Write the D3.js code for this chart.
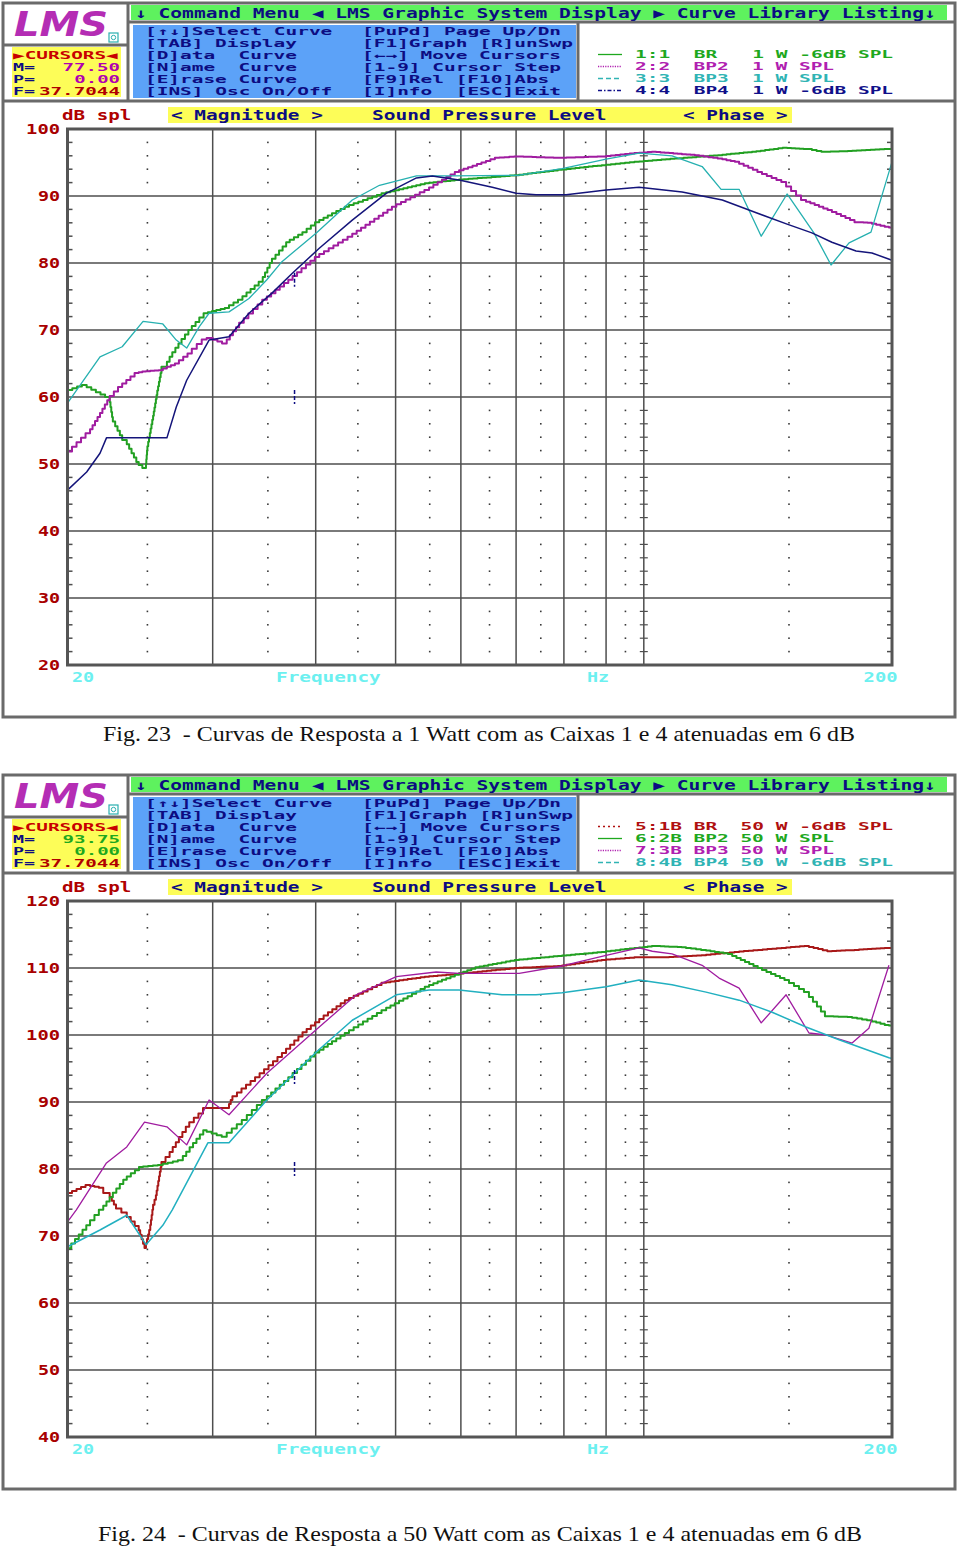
<!DOCTYPE html>
<html><head><meta charset="utf-8">
<script src="https://cdn.jsdelivr.net/npm/d3@7"></script>
<style>body{margin:0;background:#fff;} svg{display:block;}</style>
</head><body>
<svg id="c" width="960" height="1546"></svg>
<script>
// ---------------- DATA ----------------
const freqDomain = [20, 200];
const majorFreqs = [30, 40, 50, 60, 70, 80, 90, 100];
const minorFreqs = [25, 35, 45, 55, 65, 75, 85, 95, 150];
const xAxisTexts = ["20", "Frequency", "Hz", "200"];
const yTicks1 = [20, 30, 40, 50, 60, 70, 80, 90, 100];
const yTicks2 = [40, 50, 60, 70, 80, 90, 100, 110, 120];

const menuTitle = "\u2193 Command Menu \u25C0 LMS Graphic System Display \u25B6 Curve Library Listing\u2193";
const helpCol1 = ["[\u2191\u2193]Select Curve", "[TAB] Display", "[D]ata  Curve", "[N]ame  Curve", "[E]rase Curve", "[INS] Osc On/Off"];
const helpCol2 = ["[PuPd] Page Up/Dn", "[F1]Graph [R]unSwp", "[\u2190\u2192] Move Cursors", "[1-9] Cursor Step", "[F9]Rel [F10]Abs", "[I]nfo  [ESC]Exit"];
const titleTexts = ["dB spl", "< Magnitude >", "Sound Pressure Level", "< Phase >"];

const legend1 = ["1:1  BR   1 W -6dB SPL", "2:2  BP2  1 W SPL", "3:3  BP3  1 W SPL", "4:4  BP4  1 W -6dB SPL"];
const legend2 = ["5:1B BR  50 W -6dB SPL", "6:2B BP2 50 W SPL", "7:3B BP3 50 W SPL", "8:4B BP4 50 W -6dB SPL"];
const cursor1 = {M: "77.50", P: "0.00", F: "37.7044"};
const cursor2 = {M: "93.75", P: "0.00", F: "37.7044"};
const cursorFreq = 37.7044;
const cursorMag1 = 77.5, cursorMag2 = 93.75;
const phaseZero1 = 60, phaseZero2 = 80;

const captions = ["Fig. 23  - Curvas de Resposta a 1 Watt com as Caixas 1 e 4 atenuadas em 6 dB",
                  "Fig. 24  - Curvas de Resposta a 50 Watt com as Caixas 1 e 4 atenuadas em 6 dB"];

// Fig. 23 (1 W)  [Hz, dB SPL]
const br1W = [[20,60.8],[21.1,61.8],[22.5,60],[22.7,57],[23.3,54.3],[23.6,53.6],[24.4,50.3],[24.9,49.4],[25.0,52],[25.4,56.6],[25.7,60.3],[26.0,63.6],[26.4,64.5],[26.8,66],[27.5,68],[28.3,70],[28.9,71.2],[29.6,72.5],[31.4,73.3],[32.6,74.5],[34.5,77.2],[35.4,80],[37.2,83.1],[39.0,84.6],[40.4,86.1],[43.9,88.4],[48.7,90.4],[54.9,91.9],[59.7,92.4],[70.6,93.1],[79.6,93.9],[90,94.6],[98.7,95.1],[110.4,95.6],[124.5,96.1],[136.9,96.6],[149.2,97.2],[159.9,97],[166.4,96.6],[178.9,96.7],[198.3,97],[200,97]];
const bp2_1W = [[20,51.2],[21.3,54.6],[21.9,57],[22.5,59.5],[23.3,61.5],[24.4,63.6],[24.9,63.8],[26.1,64.0],[27.3,65],[28.3,66.5],[29.5,68.6],[30,68.8],[31.2,68],[32.3,70.4],[34.9,74.5],[37.5,77.5],[40.4,80.9],[44.3,83.9],[50.1,88.4],[54.9,90.9],[59.7,93.6],[66.8,95.7],[70.6,95.9],[79.6,95.7],[90,95.9],[98.7,96.4],[103.5,96.6],[116.7,96.1],[124.5,95.6],[130.5,95.1],[139.1,93.6],[148.8,92.1],[157.3,89.4],[169.1,87.9],[182.4,86.1],[189.1,86],[198.3,85.4],[200,85.3]];
const bp3_1W = [[20,59.1],[21.9,66],[23.3,67.5],[24.7,71.3],[26.1,70.9],[27.1,68.5],[27.9,67.3],[28.9,70.5],[29.7,72.5],[31.4,72.7],[33.2,74.7],[34.9,77.5],[36.4,80.2],[40.1,84.5],[44.3,89.4],[47.8,91.6],[53.0,93],[58.6,93],[70.6,93.1],[79.6,94.1],[90,95.5],[98.7,96.4],[108.2,96],[117.7,94.4],[124.1,91],[130.5,91],[138.8,84],[149.2,90.3],[160.8,84.5],[168.7,79.7],[177.4,83],[188.6,84.6],[200,95.1]];
const bp4_1W = [[20,46.1],[21.1,48.8],[21.9,51.6],[22.3,53.9],[26.4,53.9],[27.1,58.5],[27.9,62.5],[29.7,68.5],[31.4,69],[33.2,72.5],[35.4,75.5],[37.5,78.5],[40.4,82.2],[44.3,86.4],[48.7,90.4],[53.0,92.7],[55.4,93],[59.7,92.4],[65.5,91.3],[70.0,90.4],[74.0,90.2],[80.5,90.2],[90,90.9],[98.7,91.3],[111.3,90.6],[124.5,89.4],[136.9,87.5],[149.2,85.8],[159.9,84.5],[169.1,83.1],[180.9,81.8],[189.1,81.5],[200,80.4]];

// Fig. 24 (50 W)
const br50W = [[20,76.1],[21.3,77.6],[22.1,77.2],[22.5,76.4],[22.9,74.7],[23.6,73.5],[24.4,71.5],[24.9,68.2],[25.2,70.9],[25.4,73.9],[25.6,75.4],[26.0,80.3],[26.6,81.8],[27.3,84],[28.1,86.3],[29.2,88.3],[29.7,89.1],[31.4,89.1],[31.7,90.3],[34.2,93.7],[36.4,96.7],[39.0,100.4],[40.4,101.9],[41.9,103.4],[43.9,105.2],[48.7,107.8],[54.9,108.7],[59.7,109.1],[70.6,110],[79.6,110.3],[90,111.2],[98.7,111.6],[107.3,111.6],[119,111.9],[130.5,112.4],[148.8,113],[158.6,113.3],[169.1,112.5],[182.4,112.7],[198.3,113],[200,113]];
const bp2_50W = [[20,67.5],[21.3,71.6],[22.1,73.9],[22.7,75.8],[23.6,78.4],[24.7,80.3],[26.1,80.6],[27.6,81.3],[29.5,85.8],[31.2,84.8],[33.0,87.3],[34.9,90.3],[37.5,93.7],[40.4,97.4],[43.9,100.3],[48.7,103.7],[54.9,107.2],[59.7,109],[63.2,110.1],[70.6,111.2],[79.6,111.8],[90,112.4],[98.7,113],[103.5,113.3],[112.5,113.1],[119,112.7],[128,112.1],[139.1,110],[150,108.2],[158.6,106.4],[167.7,102.8],[178.9,102.7],[189.1,102.2],[198.3,101.5],[200,101.4]];
const bp3_50W = [[20,72.1],[20.5,73.9],[22.3,80.9],[23.6,83.3],[24.8,87],[26.4,86.3],[27.9,83.6],[29.7,90.3],[31.4,88.1],[34.9,94.3],[40.4,101.2],[44.8,106],[50.1,108.7],[56.0,109.4],[59.7,109.2],[70.6,109.2],[79.6,110.3],[90,111.9],[98.7,113],[102.4,112.5],[108.2,112.1],[117.7,110.4],[123.4,108.5],[130.5,107],[138.8,101.8],[148.8,106],[158.6,100.3],[166.4,100],[178.9,98.8],[187.5,101],[198.3,110.4]];
const bp4_50W = [[20,68.4],[21.9,70.9],[23.6,73.1],[24.9,68.7],[26.1,71.6],[26.8,73.9],[29.6,83.9],[31.4,83.9],[34.9,90.3],[40.1,97.5],[44.3,102.2],[50.1,106],[54.9,106.7],[59.7,106.7],[67.3,106],[74.0,106],[79.6,106.3],[90,107.2],[98.7,108.2],[108.2,107.5],[119,106.4],[130.5,105.2],[143.1,103.4],[157.3,101.2],[172.5,99.3],[198.3,96.6],[200,96.5]];

// ---------------- RENDER ----------------
const svg = d3.select('#c');
const CW = 11.8;
const NAVY = '#0c0c82';
const L = 67.5, R = 892, T = 129, B = 665;
const MONO = 'DejaVu Sans Mono, monospace';
const ROW = 12;          // row pitch of stacked text blocks
const FS_ROW = 10.2;     // font size that fits that pitch

function dos(g, x, y, s, fill, anchor, fs) {
  return g.append('text').attr('x', x).attr('y', y).attr('fill', fill)
    .attr('font-family', MONO).attr('font-weight', 'bold').attr('font-size', fs || 14)
    .attr('text-anchor', anchor || 'start')
    .attr('textLength', s.length * CW - 1.5).attr('lengthAdjust', 'spacingAndGlyphs')
    .style('white-space', 'pre').text(s);
}

function curveStair(context) {
  let x0, y0, started = false;
  return {
    areaStart() {}, areaEnd() {},
    lineStart() { started = false; },
    lineEnd() {},
    point(x, y) {
      x = +x; y = +y;
      if (!started) { context.moveTo(x, y); started = true; }
      else {
        const n = Math.max(1, Math.round(Math.max(Math.abs(x - x0), Math.abs(y - y0)) / 4.5));
        for (let i = 1; i <= n; i++) {
          const xa = x0 + (x - x0) * (i - 1) / n, xb = x0 + (x - x0) * i / n, yb = y0 + (y - y0) * i / n;
          context.lineTo(xa, yb); context.lineTo(xb, yb);
        }
      }
      x0 = x; y0 = y;
    }
  };
}

function drawPanel(oy, cfg) {
  const g = svg.append('g').attr('transform', `translate(0,${oy})`);
  const frameC = '#6a6a6a';
  g.append('rect').attr('x', 3).attr('y', 3).attr('width', 952).attr('height', 714)
    .attr('fill', '#fff').attr('stroke', frameC).attr('stroke-width', 3);
  const seps = [[128, 3, 128, 101], [3, 45, 128, 45], [128, 22, 955, 22], [578, 22, 578, 101], [3, 101, 955, 101]];
  seps.forEach(s => g.append('line').attr('x1', s[0]).attr('y1', s[1]).attr('x2', s[2]).attr('y2', s[3])
    .attr('stroke', frameC).attr('stroke-width', 3));

  // logo
  g.append('text').attr('x', 14).attr('y', 36).attr('fill', '#b42db4')
    .attr('font-family', 'DejaVu Sans').attr('font-style', 'italic').attr('font-weight', 'bold')
    .attr('font-size', 34).attr('textLength', 94).attr('lengthAdjust', 'spacingAndGlyphs').text('LMS');
  g.append('rect').attr('x', 109).attr('y', 33).attr('width', 9).attr('height', 9)
    .attr('fill', '#fff').attr('stroke', '#2ab0b0').attr('stroke-width', 1.2);
  g.append('circle').attr('cx', 113.5).attr('cy', 37.5).attr('r', 2.2)
    .attr('fill', 'none').attr('stroke', '#2ab0b0').attr('stroke-width', 1);

  // cursors box
  g.append('rect').attr('x', 12).attr('y', 47).attr('width', 109).attr('height', 50).attr('fill', '#fdfd58');
  const cb = 58.5;
  const endX = s => 120 - (s.length * CW - 1.5);
  dos(g, 13, cb, '\u25B6CURSORS\u25C0', '#c80000', null, FS_ROW);
  dos(g, 13, cb + ROW, 'M=', NAVY, null, FS_ROW);
  dos(g, endX(cfg.cursor.M), cb + ROW, cfg.cursor.M, cfg.mColor, null, FS_ROW);
  dos(g, 13, cb + 2 * ROW, 'P=', NAVY, null, FS_ROW);
  dos(g, endX(cfg.cursor.P), cb + 2 * ROW, cfg.cursor.P, cfg.mColor, null, FS_ROW);
  dos(g, 13, cb + 3 * ROW, 'F=', NAVY, null, FS_ROW);
  dos(g, endX(cfg.cursor.F), cb + 3 * ROW, cfg.cursor.F, '#b00000', null, FS_ROW);

  // green menu bar
  g.append('rect').attr('x', 131).attr('y', 5).attr('width', 816).attr('height', 15).attr('fill', '#5ef25e');
  dos(g, 135, 17.5, menuTitle, NAVY);

  // blue help box
  g.append('rect').attr('x', 133).attr('y', 25).attr('width', 443).attr('height', 73).attr('fill', '#5ca2f8');
  helpCol1.forEach((s, i) => dos(g, 145, 35 + i * ROW, s, NAVY, null, FS_ROW));
  helpCol2.forEach((s, i) => dos(g, 362, 35 + i * ROW, s, NAVY, null, FS_ROW));

  // legend
  cfg.legend.forEach((s, i) => {
    const cy = 54.5 + i * ROW;
    g.append('line').attr('x1', 598).attr('x2', 622).attr('y1', cy).attr('y2', cy)
      .attr('stroke', cfg.legendColors[i]).attr('stroke-width', 1.3)
      .attr('stroke-dasharray', cfg.legendDash[i]);
    dos(g, 635, cy + 3.8, s, cfg.legendColors[i], null, FS_ROW);
  });

  // title row
  g.append('rect').attr('x', 168).attr('y', 107).attr('width', 624).attr('height', 16).attr('fill', '#fdfd58');
  dos(g, 62, 120, titleTexts[0], '#b00000');
  dos(g, 171, 120, titleTexts[1], NAVY);
  dos(g, 372, 120, titleTexts[2], NAVY);
  dos(g, 683, 120, titleTexts[3], NAVY);

  // scales
  const x = d3.scaleLog().domain(freqDomain).range([L, R]);
  const y = d3.scaleLinear().domain(cfg.yDomain).range([B, T]);
  const gridC = '#4e4e4e';
  const minorVals = d3.range(cfg.yDomain[0], cfg.yDomain[1] + 0.1, 2).filter(v => v % 10 !== 0);

  cfg.yTicks.slice(1, -1).forEach(t => g.append('line').attr('x1', L).attr('x2', R)
    .attr('y1', y(t)).attr('y2', y(t)).attr('stroke', gridC).attr('stroke-width', 1.5));
  majorFreqs.forEach(f => g.append('line').attr('x1', x(f)).attr('x2', x(f))
    .attr('y1', T).attr('y2', B).attr('stroke', gridC).attr('stroke-width', 1.5));
  minorFreqs.forEach(f => minorVals.forEach(v => g.append('rect')
    .attr('x', x(f) - 0.8).attr('y', y(v) - 0.8).attr('width', 1.6).attr('height', 1.6).attr('fill', '#3a3a3a')));
  minorVals.forEach(v => {
    g.append('line').attr('x1', L).attr('x2', L + 5).attr('y1', y(v)).attr('y2', y(v)).attr('stroke', gridC).attr('stroke-width', 1.5);
    g.append('line').attr('x1', R - 5).attr('x2', R).attr('y1', y(v)).attr('y2', y(v)).attr('stroke', gridC).attr('stroke-width', 1.5);
    g.append('line').attr('x1', x(100) - 4).attr('x2', x(100) + 4).attr('y1', y(v)).attr('y2', y(v)).attr('stroke', gridC).attr('stroke-width', 1.2);
  });

  cfg.yTicks.forEach(t => dos(g, 60, y(t) + 5, String(t), '#a80000', 'end'));
  const axC = '#6cf0f0';
  dos(g, x(20) + 4.5, 682, xAxisTexts[0], axC);
  dos(g, 276, 682, xAxisTexts[1], axC);
  dos(g, 587, 682, xAxisTexts[2], axC);
  dos(g, x(200) + 5.5, 682, xAxisTexts[3], axC, 'end');

  cfg.series.forEach(s => {
    const line = d3.line().x(d => x(d[0])).y(d => y(d[1])).curve(s.stair ? curveStair : d3.curveLinear);
    g.append('path').attr('d', line(s.data)).attr('fill', 'none').attr('stroke', s.color)
      .attr('stroke-width', s.w).attr('stroke-linejoin', 'round');
  });

  g.append('rect').attr('x', L).attr('y', T).attr('width', R - L).attr('height', B - T)
    .attr('fill', 'none').attr('stroke', '#555').attr('stroke-width', 3);

  [cfg.cursorMag, cfg.phaseZero].forEach(v => g.append('line')
    .attr('x1', x(cursorFreq)).attr('x2', x(cursorFreq)).attr('y1', y(v) - 7).attr('y2', y(v) + 7)
    .attr('stroke', NAVY).attr('stroke-width', 1.5).attr('stroke-dasharray', '4,2'));
}

drawPanel(0, {
  yDomain: [20, 100], yTicks: yTicks1, cursor: cursor1, mColor: '#b000b0',
  cursorMag: cursorMag1, phaseZero: phaseZero1,
  legend: legend1,
  legendColors: ['#1ea81e', '#b020b0', '#30b4b4', '#10108a'],
  legendDash: [null, '1.2,1.2', '5,3', '4,2,1.5,2'],
  series: [
    {data: br1W, color: '#22a022', w: 2, stair: true},
    {data: bp2_1W, color: '#a01ca0', w: 2, stair: true},
    {data: bp3_1W, color: '#26b0b0', w: 1.3, stair: false},
    {data: bp4_1W, color: '#14147a', w: 1.5, stair: false}
  ]
});
drawPanel(772, {
  yDomain: [40, 120], yTicks: yTicks2, cursor: cursor2, mColor: '#1ea81e',
  cursorMag: cursorMag2, phaseZero: phaseZero2,
  legend: legend2,
  legendColors: ['#b01010', '#1ea81e', '#b020b0', '#30b4b4'],
  legendDash: ['2,3', null, '1.2,1.2', '5,3'],
  series: [
    {data: br50W, color: '#a81818', w: 2, stair: true},
    {data: bp2_50W, color: '#22a022', w: 2, stair: true},
    {data: bp3_50W, color: '#a01ca0', w: 1.3, stair: false},
    {data: bp4_50W, color: '#22b0c0', w: 1.5, stair: false}
  ]
});

[[479, 741, captions[0], 752], [480, 1541, captions[1], 764]].forEach(c => {
  svg.append('text').attr('x', c[0]).attr('y', c[1]).attr('text-anchor', 'middle')
    .attr('font-family', 'Liberation Serif, Times New Roman, serif').attr('font-size', 22).attr('fill', '#111')
    .attr('textLength', c[3]).attr('lengthAdjust', 'spacingAndGlyphs')
    .style('white-space', 'pre').text(c[2]);
});
</script>
</body></html>
